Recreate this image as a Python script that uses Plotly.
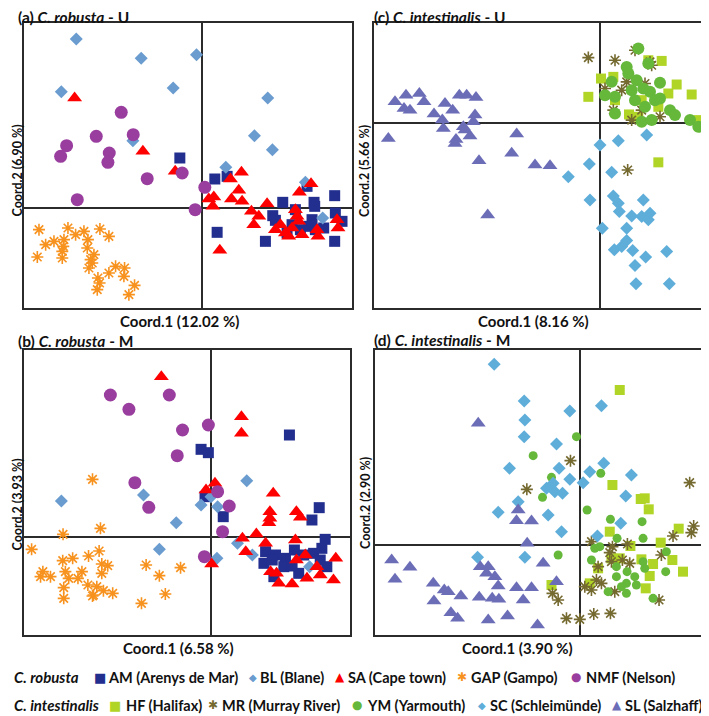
import plotly.graph_objects as go

# ---- (a) C. robusta - U ----
AM_U_x = [-0.67, 0.38, 0.75, 3.15, 3.98, 2.42, 3.36, 3.38, 2.80, 4.00, 4.20, 2.12, 2.20, 2.70, 3.20, 3.40, 3.65, 1.90, 3.98, 0.45, 3.30, 2.55, 2.95]
AM_U_y = [1.50, 0.87, 0.95, 0.65, 0.37, 0.17, 0.17, 0.05, -0.05, -0.15, -0.40, -0.23, -0.37, -0.50, -0.55, -0.65, -0.60, -1.00, -1.00, -0.73, -0.35, -0.75, -0.65]
BL_U_x = [-3.78, -1.83, -0.17, -0.87, -4.23, 1.97, 1.57, 2.11, -2.08, 0.71, 3.10, 3.62]
BL_U_y = [5.07, 4.49, 4.60, 3.60, 3.49, 3.30, 2.17, 1.75, 2.02, 1.22, 0.77, -0.30]
SA_U_x = [-3.83, -1.78, -0.81, 1.18, 0.85, 1.10, 0.20, 0.35, 0.32, 0.88, 1.20, 1.95, 1.48, 1.55, 1.70, 3.27, 2.92, 2.80, 2.85, 2.20, 2.50, 2.70, 2.60, 3.00, 3.48, 4.05, 4.08, 0.53, 2.35, 2.90, 3.45]
SA_U_y = [3.30, 1.70, 1.10, 1.07, 0.87, 0.53, 0.27, 0.33, 0.05, 0.27, 0.20, 0.13, -0.10, -0.50, -0.25, 0.73, 0.47, -0.05, -0.25, -0.65, -0.75, -0.60, -0.85, -0.80, -0.85, -0.35, -0.60, -1.27, -0.50, -0.40, -0.65]
GAP_U_x = [-4.90, -4.03, -3.55, -3.07, -2.80, -4.45, -4.15, -3.80, -3.43, -4.70, -4.95, -4.20, -4.17, -3.45, -3.25, -3.30, -3.40, -3.13, -3.15, -2.80, -2.60, -2.33, -2.35, -2.03, -2.20, -3.08, -4.20, -3.35]
GAP_U_y = [-0.65, -0.60, -0.70, -0.63, -0.85, -1.00, -0.95, -0.80, -0.95, -1.10, -1.47, -1.50, -1.15, -1.20, -1.40, -1.65, -1.80, -2.10, -2.45, -1.95, -1.75, -1.80, -2.05, -2.32, -2.60, -2.25, -1.30, -1.55]
NMF_U_x = [-2.43, -3.18, -2.07, -4.07, -4.25, -2.79, -2.83, -1.65, -0.60, 0.08, -3.75, -0.21]
NMF_U_y = [2.87, 2.15, 2.20, 1.87, 1.55, 1.65, 1.37, 0.88, 1.05, 0.62, 0.25, -0.05]

# ---- (b) C. robusta - M ----
AM_M_x = [-0.30, -0.08, 2.37, -0.18, 0.37, 3.27, 3.05, 3.45, 3.35, 1.65, 1.95, 2.25, 2.52, 2.80, 3.10, 1.60, 2.20, 2.65, 3.50, 1.90, 2.45, 3.30, 1.85]
AM_M_y = [2.62, 2.52, 3.05, 1.20, 0.60, 0.87, 0.50, -0.08, -0.35, -0.45, -0.55, -0.65, -0.40, -0.55, -0.50, -0.80, -0.90, -1.10, -0.90, -1.20, -0.88, -0.70, -0.70]
BL_M_x = [-4.52, -2.04, 1.08, -0.30, 0.20, -1.05, -1.56, 0.80, 0.18, 1.25, 2.98, 0.00]
BL_M_y = [1.07, 1.25, 1.68, 0.95, 0.90, 0.42, -0.38, -0.20, -0.65, -0.55, -0.90, 1.20]
SA_M_x = [-1.50, 0.92, 0.92, -0.15, 0.12, 1.88, 1.78, 1.78, 1.75, 2.58, 2.70, 0.95, 1.37, 1.65, 1.05, 2.55, 2.85, 2.58, 3.77, 1.80, 1.98, 2.05, 2.45, 2.90, 3.20, 3.30, 3.70, 0.02]
SA_M_y = [4.80, 3.60, 3.10, 1.40, 1.60, 1.30, 0.75, 0.55, 0.42, 0.75, 0.58, -0.05, 0.08, -0.20, -0.45, -0.10, -0.55, -0.70, -0.65, -1.05, -1.10, -1.40, -1.42, -1.25, -0.90, -1.15, -1.30, -0.82]
GAP_M_x = [-3.58, -4.47, -3.34, -5.42, -4.48, -4.18, -3.70, -3.38, -3.30, -3.12, -5.08, -4.85, -5.15, -4.40, -4.30, -3.90, -4.02, -4.45, -3.72, -3.45, -3.55, -3.25, -2.97, -4.45, -3.58, -1.96, -1.56, -0.92, -1.38, -2.10, -3.30]
GAP_M_y = [1.72, 0.07, 0.25, -0.38, -0.72, -0.65, -0.58, -0.43, -0.82, -0.87, -1.05, -1.20, -1.20, -1.05, -1.25, -1.05, -1.25, -1.53, -1.45, -1.50, -1.75, -1.62, -1.70, -1.85, -1.78, -0.85, -1.17, -0.93, -1.72, -2.00, -1.10]
NMF_M_x = [-3.04, -1.26, -2.48, -0.86, -0.08, -1.02, -2.30, 0.20, 0.55, -1.88, 0.35, -0.20]
NMF_M_y = [4.25, 4.25, 3.82, 3.20, 3.35, 2.43, 1.62, 1.35, 0.92, 0.88, 0.15, -0.60]

# ---- (c) C. intestinalis - U ----
HF_U_x = [-0.35, 0.03, 0.40, 1.85, 1.45, 2.30, 2.75, 2.05, 1.75, 0.87, 1.25, 1.75, 2.95, 1.15, 0.45]
HF_U_y = [0.78, 1.33, 1.38, 1.86, 1.88, 1.15, 0.85, 0.88, 0.48, 0.25, 0.68, -1.19, 0.08, 0.18, 0.68]
MR_U_x = [-0.35, 0.45, 1.05, 1.50, 1.55, 0.80, 0.65, 0.15, 0.95, 1.80, 1.25, 0.83, 0.40, 1.35]
MR_U_y = [1.96, 1.88, 2.18, 1.83, 1.73, 1.23, 0.98, 1.03, 0.08, 0.18, 0.38, -1.42, 0.38, 1.18]
YM_U_x = [1.15, 0.80, 0.35, 0.15, 0.45, 1.10, 0.95, 1.30, 1.50, 1.80, 1.65, 1.80, 1.35, 2.10, 2.25, 1.25, 1.55, 2.70, 2.95, 1.45, 0.85, 1.05, 0.45]
YM_U_y = [2.23, 1.68, 1.23, 0.83, 0.78, 1.28, 0.98, 1.03, 0.93, 1.20, 0.68, 0.73, 0.48, 0.38, 0.23, 0.03, 0.08, 0.08, -0.12, 1.78, 1.48, 0.68, 0.28]
SC_U_x = [0.00, 0.55, 1.40, -0.32, -0.95, 0.35, -0.30, 0.40, 0.55, 0.58, 1.30, 0.95, 1.25, 1.50, 1.45, 0.07, 0.80, 0.80, 0.65, 0.43, 0.98, 1.37, 2.00, 1.05, 1.08, 2.08]
SC_U_y = [-0.67, -0.54, -0.37, -1.24, -1.62, -1.49, -2.32, -2.20, -2.42, -2.67, -2.32, -2.80, -2.82, -2.72, -2.92, -3.17, -3.17, -3.54, -3.72, -3.82, -3.84, -4.04, -3.87, -4.29, -4.84, -4.84]
SL_U_x = [-6.15, -5.82, -5.42, -5.28, -5.88, -5.70, -4.98, -4.65, -4.42, -4.73, -4.70, -4.22, -4.00, -3.72, -3.75, -3.80, -4.10, -3.90, -4.32, -4.35, -6.35, -2.50, -2.65, -3.63, -1.95, -1.50, -3.37, -4.05]
SL_U_y = [0.63, 0.83, 0.88, 0.63, 0.43, 0.38, 0.26, 0.58, 0.38, 0.08, -0.17, 0.83, 0.83, 0.76, 0.23, 0.03, -0.12, -0.40, -0.50, -0.62, -0.47, -0.34, -0.92, -1.14, -1.27, -1.29, -2.77, -0.22]

# ---- (d) C. intestinalis - M ----
HF_M_x = [1.18, 0.96, 1.81, 2.05, 0.88, 1.50, 2.41, 2.95, 1.83, 2.18, 2.76, 3.08, 2.08, 1.96, 0.53, 0.28, -0.87, 1.18, 0.93, 1.93]
HF_M_y = [4.65, 1.80, 1.38, 1.07, 0.40, -0.03, 0.07, 0.49, -0.43, -0.57, -0.45, -0.80, -0.93, -1.30, -0.70, -1.15, -1.20, -0.40, -0.40, 1.40]
MR_M_x = [-0.30, -1.61, 3.28, 3.40, 3.33, 2.78, 2.43, 1.41, 0.33, 0.96, 1.26, 0.93, 0.88, 0.53, 0.48, 0.13, 0.33, 0.63, 1.03, 2.36, -0.84, -0.67, -0.42, -0.02, 0.40, 0.90, 1.48]
MR_M_y = [2.53, 1.67, 1.87, 0.57, 0.37, 0.27, -0.30, 0.03, 0.10, -0.05, -0.45, -0.50, -0.23, -0.65, -1.05, -1.25, -1.35, -1.15, -1.40, -1.65, -1.45, -1.65, -2.20, -2.23, -2.07, -2.05, -0.55]
YM_M_x = [-0.12, -1.42, -0.87, 0.61, -1.14, 0.20, 0.90, 1.85, 1.10, 1.88, -0.67, 0.58, 0.43, 0.33, 1.93, 2.58, 2.56, 1.08, 1.38, 1.23, 1.68, 1.40, 2.18, 0.83, 1.38, 1.63, 1.08, 1.88]
YM_M_y = [3.25, 2.68, 2.03, 2.15, 1.43, 1.05, 0.77, 0.70, 0.20, 0.20, -0.30, -0.05, -0.10, -0.45, -0.70, -0.20, -0.80, -0.95, -1.15, -1.25, -1.20, -0.80, -1.60, -1.40, -1.45, -0.95, -0.65, -0.50]
SC_M_x = [-2.59, -1.69, -1.67, -1.69, -0.32, 0.63, -0.72, -0.64, -2.13, -0.32, 0.28, 0.70, 1.53, 0.08, -0.82, -1.02, -0.77, -0.54, -1.87, -2.47, -0.97, -0.57, 1.36, 1.21, 0.51, -3.09, -1.67]
SC_M_y = [5.42, 4.32, 3.75, 3.25, 4.02, 4.18, 3.03, 2.30, 2.30, 1.97, 2.20, 2.45, 2.10, 1.87, 1.85, 1.70, 1.60, 1.55, 1.30, 0.98, 0.90, 0.40, 1.47, 0.65, 0.27, -0.37, -0.37]
SL_M_x = [-3.07, -1.87, -1.92, -1.47, -1.60, -5.67, -5.12, -5.57, -3.01, -2.77, -2.82, -2.57, -2.47, -4.42, -4.09, -3.97, -3.59, -4.40, -3.04, -2.65, -2.45, -1.92, -1.47, -1.72, -1.12, -0.72, -3.89, -3.69, -2.77, -2.19, -1.29]
SL_M_y = [3.65, 1.05, 0.73, 0.72, 0.05, -0.45, -0.67, -1.03, -0.65, -0.65, -0.85, -0.95, -1.23, -1.15, -1.35, -1.40, -1.53, -1.68, -1.57, -1.60, -1.63, -1.28, -1.28, -1.65, -0.55, -1.10, -2.03, -2.20, -2.25, -2.13, -2.40]

# axis labels (variance explained)
x_titles = ["Coord.1 (12.02 %)", "Coord.1 (6.58 %)", "Coord.1 (8.16 %)", "Coord.1 (3.90 %)"]
y_titles = ["Coord.2 (6.90 %)", "Coord.2 (3.93 %)", "Coord.2 (5.66 %)", "Coord.2 (2.90 %)"]

robusta_labels = ["AM (Arenys de Mar)", "BL (Blane)", "SA (Cape town)", "GAP (Gampo)", "NMF (Nelson)"]
intest_labels = ["HF (Halifax)", "MR (Murray River)", "YM (Yarmouth)", "SC (Schleimünde)", "SL (Salzhaff)"]

# the page body has an 8px margin, so the figure is shifted by that much
OFF = 8
W, H = 709 - OFF, 716 - OFF
FONT = "Lato"
LINE = "#2b2b2b"


def px(x):
    return (x - OFF) / W


def py(y):
    return 1 - (y - OFF) / H


style = {
    "AM": dict(symbol="square", color="#232F8F", size=11),
    "BL": dict(symbol="diamond", color="#6A9CD0", size=10),
    "SA": dict(symbol="triangle-up", color="#FF0000", size=13),
    "GAP": dict(symbol="asterisk-open", color="#F7921E", size=10),
    "NMF": dict(symbol="circle", color="#993D9E", size=13),
    "HF": dict(symbol="square", color="#B1D526", size=10),
    "MR": dict(symbol="asterisk-open", color="#74692F", size=10),
    "YM": dict(symbol="circle", color="#65B83A", size=12),
    "SC": dict(symbol="diamond", color="#5FAEDA", size=10),
    "SL": dict(symbol="triangle-up", color="#6C6DB7", size=13),
}

panels = [
    # axis suffix, series, frame px (left, right, top, bottom), ranges
    ("", [("AM", AM_U_x, AM_U_y), ("BL", BL_U_x, BL_U_y), ("SA", SA_U_x, SA_U_y),
          ("GAP", GAP_U_x, GAP_U_y), ("NMF", NMF_U_x, NMF_U_y)],
     (24, 352, 23, 308), [-5.35, 4.50], [-3.00, 5.55]),
    ("2", [("AM", AM_M_x, AM_M_y), ("BL", BL_M_x, BL_M_y), ("SA", SA_M_x, SA_M_y),
           ("GAP", GAP_M_x, GAP_M_y), ("NMF", NMF_M_x, NMF_M_y)],
     (24, 350, 350, 635), [-5.65, 4.20], [-2.95, 5.60]),
    ("3", [("HF", HF_U_x, HF_U_y), ("MR", MR_U_x, MR_U_y), ("YM", YM_U_x, YM_U_y),
           ("SC", SC_U_x, SC_U_y), ("SL", SL_U_x, SL_U_y)],
     (374, 705, 23, 308), [-6.78, 3.15], [-5.57, 3.00]),
    ("4", [("HF", HF_M_x, HF_M_y), ("MR", MR_M_x, MR_M_y), ("YM", YM_M_x, YM_M_y),
           ("SC", SC_M_x, SC_M_y), ("SL", SL_M_x, SL_M_y)],
     (375, 707, 350, 635), [-6.17, 3.80], [-2.70, 5.85]),
]

fig = go.Figure()
layout_axes = {}
for sfx, series, (l, r, t, b), xr, yr in panels:
    for key, xs, ys in series:
        st = style[key]
        size = st["size"]
        if sfx == "4" and key == "YM":
            size = 9
        marker = dict(symbol=st["symbol"], color=st["color"], size=size,
                      line=dict(width=0))
        if "asterisk" in st["symbol"]:
            marker["line"] = dict(width=1.6, color=st["color"])
        fig.add_trace(go.Scatter(x=xs, y=ys, mode="markers", marker=marker,
                                 xaxis="x" + sfx, yaxis="y" + sfx,
                                 showlegend=False, cliponaxis=False))
    common = dict(showgrid=False, showticklabels=False, ticks="",
                  showline=True, mirror=True, linecolor=LINE, linewidth=1.5,
                  zeroline=True, zerolinecolor=LINE, zerolinewidth=1.5)
    layout_axes["xaxis" + sfx] = dict(common, domain=[px(l), px(r)], range=xr,
                                      anchor="y" + sfx)
    layout_axes["yaxis" + sfx] = dict(common, domain=[py(b), py(t)], range=yr,
                                      anchor="x" + sfx)

fig.update_layout(**layout_axes)

ann = []
titles = [("(a) ", "C. robusta", " - U", 16, 17),
          ("(b) ", "C. robusta", " - M", 16, 341),
          ("(c) ", "C. intestinalis", " - U", 372, 17),
          ("(d) ", "C. intestinalis", " - M", 372, 340)]
for pre, sp, suf, x, y in titles:
    ann.append(dict(text=f"<b>{pre}<i>{sp}</i>{suf}</b>", x=px(x), y=py(y),
                    xanchor="left", yanchor="middle", font=dict(size=15.5)))

xt_pos = [(179, 321), (178, 648), (533, 321), (517, 648)]
yt_pos = [(16.5, 171), (16.5, 505), (364, 171), (365, 503)]
for txt, (x, y) in zip(x_titles, xt_pos):
    ann.append(dict(text=f"<b>{txt}</b>", x=px(x), y=py(y),
                    xanchor="center", yanchor="middle", font=dict(size=15)))
for txt, (x, y) in zip(y_titles, yt_pos):
    ann.append(dict(text=f"<b>{txt}</b>", x=px(x), y=py(y), textangle=-90,
                    xanchor="center", yanchor="middle", borderpad=0,
                    font=dict(size=12.5)))

# legend rows drawn as text
glyph = {"square": "■", "diamond": "◆", "triangle-up": "▲",
         "asterisk-open": "✱", "circle": "●"}
rows = [
    ("C. robusta", 677, ["AM", "BL", "SA", "GAP", "NMF"], robusta_labels,
     [100, 253, 340, 462, 576], [106, 258, 346, 469, 584]),
    ("C. intestinalis", 705, ["HF", "MR", "YM", "SC", "SL"], intest_labels,
     [115, 213, 357, 482, 617], [124, 220, 365, 488, 623]),
]
gsize = {"square": 13, "diamond": 10, "triangle-up": 12, "asterisk-open": 12, "circle": 12}
for head, y, keys, labels, sx, tx in rows:
    ann.append(dict(text=f"<b><i>{head}</i></b>", x=px(12), y=py(y),
                    xanchor="left", yanchor="middle", font=dict(size=15)))
    for key, lab, gx, lx in zip(keys, labels, sx, tx):
        st = style[key]
        ann.append(dict(text=glyph[st["symbol"]], x=px(gx), y=py(y),
                        xanchor="center", yanchor="middle",
                        font=dict(size=gsize[st["symbol"]], color=st["color"],
                                  family="DejaVu Sans")))
        ann.append(dict(text=f"<b>{lab}</b>", x=px(lx), y=py(y),
                        xanchor="left", yanchor="middle", font=dict(size=14.5)))

for a in ann:
    a.update(xref="paper", yref="paper", showarrow=False)

fig.update_layout(
    width=W, height=H,
    margin=dict(l=0, r=0, t=0, b=0),
    paper_bgcolor="white", plot_bgcolor="white",
    font=dict(family=FONT, color="#111111"),
    annotations=ann,
    showlegend=False,
)

fig.write_html("out.html")
